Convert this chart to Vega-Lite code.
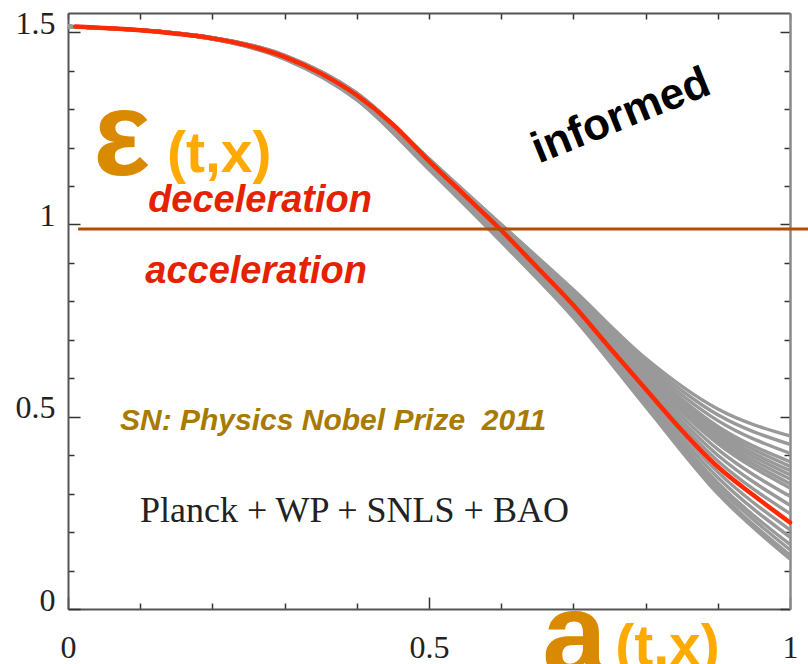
{
  "$schema": "https://vega.github.io/schema/vega-lite/v6.json",
  "width": 722,
  "height": 596,
  "autosize": "none",
  "padding": {"left": 68, "top": 13, "right": 18, "bottom": 55},
  "background": "white",
  "config": {
    "view": {"stroke": null},
    "axis": {
      "grid": false,
      "domainColor": "#555555",
      "domainWidth": 2,
      "tickColor": "#333333",
      "tickWidth": 1.5,
      "labelFont": "Liberation Serif",
      "labelFontSize": 32,
      "labelColor": "#222222",
      "title": null
    }
  },
  "datasets": {
    "gray": [
      {"run":"u1","a":0,"e":1.515},{"run":"u1","a":0.2,"e":1.484},{"run":"u1","a":0.3,"e":1.436},{"run":"u1","a":0.4,"e":1.337},{"run":"u1","a":0.5,"e":1.166},{"run":"u1","a":0.6,"e":0.987},{"run":"u1","a":0.7,"e":0.794},{"run":"u1","a":0.8,"e":0.58},{"run":"u1","a":0.9,"e":0.385},{"run":"u1","a":1,"e":0.248},
      {"run":"u2","a":0,"e":1.515},{"run":"u2","a":0.2,"e":1.484},{"run":"u2","a":0.3,"e":1.437},{"run":"u2","a":0.4,"e":1.337},{"run":"u2","a":0.5,"e":1.166},{"run":"u2","a":0.6,"e":0.988},{"run":"u2","a":0.7,"e":0.798},{"run":"u2","a":0.8,"e":0.588},{"run":"u2","a":0.9,"e":0.4},{"run":"u2","a":1,"e":0.27},
      {"run":"u3","a":0,"e":1.515},{"run":"u3","a":0.2,"e":1.485},{"run":"u3","a":0.3,"e":1.437},{"run":"u3","a":0.4,"e":1.338},{"run":"u3","a":0.5,"e":1.167},{"run":"u3","a":0.6,"e":0.99},{"run":"u3","a":0.7,"e":0.802},{"run":"u3","a":0.8,"e":0.596},{"run":"u3","a":0.9,"e":0.415},{"run":"u3","a":1,"e":0.293},
      {"run":"u4","a":0,"e":1.515},{"run":"u4","a":0.2,"e":1.485},{"run":"u4","a":0.3,"e":1.438},{"run":"u4","a":0.4,"e":1.338},{"run":"u4","a":0.5,"e":1.167},{"run":"u4","a":0.6,"e":0.991},{"run":"u4","a":0.7,"e":0.806},{"run":"u4","a":0.8,"e":0.604},{"run":"u4","a":0.9,"e":0.43},{"run":"u4","a":1,"e":0.315},
      {"run":"u5","a":0,"e":1.515},{"run":"u5","a":0.2,"e":1.485},{"run":"u5","a":0.3,"e":1.438},{"run":"u5","a":0.4,"e":1.339},{"run":"u5","a":0.5,"e":1.168},{"run":"u5","a":0.6,"e":0.992},{"run":"u5","a":0.7,"e":0.808},{"run":"u5","a":0.8,"e":0.608},{"run":"u5","a":0.9,"e":0.438},{"run":"u5","a":1,"e":0.326},
      {"run":"u6","a":0,"e":1.515},{"run":"u6","a":0.2,"e":1.485},{"run":"u6","a":0.3,"e":1.438},{"run":"u6","a":0.4,"e":1.339},{"run":"u6","a":0.5,"e":1.168},{"run":"u6","a":0.6,"e":0.993},{"run":"u6","a":0.7,"e":0.81},{"run":"u6","a":0.8,"e":0.612},{"run":"u6","a":0.9,"e":0.445},{"run":"u6","a":1,"e":0.338},
      {"run":"u7","a":0,"e":1.515},{"run":"u7","a":0.2,"e":1.485},{"run":"u7","a":0.3,"e":1.438},{"run":"u7","a":0.4,"e":1.339},{"run":"u7","a":0.5,"e":1.168},{"run":"u7","a":0.6,"e":0.993},{"run":"u7","a":0.7,"e":0.812},{"run":"u7","a":0.8,"e":0.616},{"run":"u7","a":0.9,"e":0.453},{"run":"u7","a":1,"e":0.349},
      {"run":"u8","a":0,"e":1.515},{"run":"u8","a":0.2,"e":1.485},{"run":"u8","a":0.3,"e":1.438},{"run":"u8","a":0.4,"e":1.34},{"run":"u8","a":0.5,"e":1.169},{"run":"u8","a":0.6,"e":0.994},{"run":"u8","a":0.7,"e":0.814},{"run":"u8","a":0.8,"e":0.62},{"run":"u8","a":0.9,"e":0.46},{"run":"u8","a":1,"e":0.36},
      {"run":"u9","a":0,"e":1.515},{"run":"u9","a":0.2,"e":1.485},{"run":"u9","a":0.3,"e":1.439},{"run":"u9","a":0.4,"e":1.34},{"run":"u9","a":0.5,"e":1.169},{"run":"u9","a":0.6,"e":0.995},{"run":"u9","a":0.7,"e":0.816},{"run":"u9","a":0.8,"e":0.624},{"run":"u9","a":0.9,"e":0.468},{"run":"u9","a":1,"e":0.371},
      {"run":"u10","a":0,"e":1.515},{"run":"u10","a":0.2,"e":1.485},{"run":"u10","a":0.3,"e":1.439},{"run":"u10","a":0.4,"e":1.34},{"run":"u10","a":0.5,"e":1.169},{"run":"u10","a":0.6,"e":0.996},{"run":"u10","a":0.7,"e":0.818},{"run":"u10","a":0.8,"e":0.628},{"run":"u10","a":0.9,"e":0.475},{"run":"u10","a":1,"e":0.383},
      {"run":"u11","a":0,"e":1.515},{"run":"u11","a":0.2,"e":1.486},{"run":"u11","a":0.3,"e":1.439},{"run":"u11","a":0.4,"e":1.341},{"run":"u11","a":0.5,"e":1.17},{"run":"u11","a":0.6,"e":0.997},{"run":"u11","a":0.7,"e":0.822},{"run":"u11","a":0.8,"e":0.636},{"run":"u11","a":0.9,"e":0.49},{"run":"u11","a":1,"e":0.405},
      {"run":"u12","a":0,"e":1.515},{"run":"u12","a":0.2,"e":1.486},{"run":"u12","a":0.3,"e":1.44},{"run":"u12","a":0.4,"e":1.341},{"run":"u12","a":0.5,"e":1.17},{"run":"u12","a":0.6,"e":0.999},{"run":"u12","a":0.7,"e":0.826},{"run":"u12","a":0.8,"e":0.644},{"run":"u12","a":0.9,"e":0.505},{"run":"u12","a":1,"e":0.428},
      {"run":"u13","a":0,"e":1.515},{"run":"u13","a":0.2,"e":1.486},{"run":"u13","a":0.3,"e":1.44},{"run":"u13","a":0.4,"e":1.342},{"run":"u13","a":0.5,"e":1.171},{"run":"u13","a":0.6,"e":1.0},{"run":"u13","a":0.7,"e":0.83},{"run":"u13","a":0.8,"e":0.652},{"run":"u13","a":0.9,"e":0.52},{"run":"u13","a":1,"e":0.45},
      {"run":"l1","a":0,"e":1.515},{"run":"l1","a":0.2,"e":1.484},{"run":"l1","a":0.3,"e":1.435},{"run":"l1","a":0.4,"e":1.334},{"run":"l1","a":0.5,"e":1.161},{"run":"l1","a":0.6,"e":0.979},{"run":"l1","a":0.7,"e":0.784},{"run":"l1","a":0.8,"e":0.563},{"run":"l1","a":0.9,"e":0.356},{"run":"l1","a":1,"e":0.206},
      {"run":"l2","a":0,"e":1.515},{"run":"l2","a":0.2,"e":1.483},{"run":"l2","a":0.3,"e":1.434},{"run":"l2","a":0.4,"e":1.331},{"run":"l2","a":0.5,"e":1.156},{"run":"l2","a":0.6,"e":0.973},{"run":"l2","a":0.7,"e":0.777},{"run":"l2","a":0.8,"e":0.554},{"run":"l2","a":0.9,"e":0.342},{"run":"l2","a":1,"e":0.187},
      {"run":"l3","a":0,"e":1.515},{"run":"l3","a":0.2,"e":1.483},{"run":"l3","a":0.3,"e":1.432},{"run":"l3","a":0.4,"e":1.329},{"run":"l3","a":0.5,"e":1.152},{"run":"l3","a":0.6,"e":0.967},{"run":"l3","a":0.7,"e":0.771},{"run":"l3","a":0.8,"e":0.545},{"run":"l3","a":0.9,"e":0.328},{"run":"l3","a":1,"e":0.168},
      {"run":"l4","a":0,"e":1.515},{"run":"l4","a":0.2,"e":1.483},{"run":"l4","a":0.3,"e":1.432},{"run":"l4","a":0.4,"e":1.327},{"run":"l4","a":0.5,"e":1.149},{"run":"l4","a":0.6,"e":0.963},{"run":"l4","a":0.7,"e":0.766},{"run":"l4","a":0.8,"e":0.538},{"run":"l4","a":0.9,"e":0.318},{"run":"l4","a":1,"e":0.154},
      {"run":"l5","a":0,"e":1.515},{"run":"l5","a":0.2,"e":1.482},{"run":"l5","a":0.3,"e":1.431},{"run":"l5","a":0.4,"e":1.325},{"run":"l5","a":0.5,"e":1.145},{"run":"l5","a":0.6,"e":0.958},{"run":"l5","a":0.7,"e":0.761},{"run":"l5","a":0.8,"e":0.532},{"run":"l5","a":0.9,"e":0.307},{"run":"l5","a":1,"e":0.14},
      {"run":"l6","a":0,"e":1.515},{"run":"l6","a":0.2,"e":1.482},{"run":"l6","a":0.3,"e":1.43},{"run":"l6","a":0.4,"e":1.324},{"run":"l6","a":0.5,"e":1.143},{"run":"l6","a":0.6,"e":0.955},{"run":"l6","a":0.7,"e":0.758},{"run":"l6","a":0.8,"e":0.527},{"run":"l6","a":0.9,"e":0.3},{"run":"l6","a":1,"e":0.13}
    ],
    "red": [
      {"a":0.01,"e":1.515},{"a":0.05,"e":1.511},{"a":0.1,"e":1.505},{"a":0.15,"e":1.496},{"a":0.2,"e":1.484},{"a":0.25,"e":1.465},{"a":0.3,"e":1.436},{"a":0.35,"e":1.393},{"a":0.4,"e":1.336},{"a":0.45,"e":1.26},{"a":0.5,"e":1.165},{"a":0.55,"e":1.075},{"a":0.6,"e":0.985},{"a":0.65,"e":0.888},{"a":0.7,"e":0.79},{"a":0.75,"e":0.68},{"a":0.8,"e":0.572},{"a":0.85,"e":0.465},{"a":0.9,"e":0.37},{"a":0.95,"e":0.295},{"a":1.0,"e":0.225}
    ]
  },
  "layer": [
    {
      "data": {"name": "gray"},
      "mark": {"type": "line", "interpolate": "monotone", "color": "#999999", "strokeWidth": 3.4},
      "encoding": {
        "x": {"field": "a", "type": "quantitative",
          "scale": {"domain": [0, 1], "nice": false, "zero": false},
          "axis": {"orient": "bottom", "values": [0,0.1,0.2,0.3,0.4,0.5,0.6,0.7,0.8,0.9,1],
            "tickSize": {"condition": {"test": "abs(datum.value*2 - round(datum.value*2)) < 0.001", "value": -12}, "value": -6},
            "labelExpr": "abs(datum.value*2 - round(datum.value*2)) < 0.001 ? format(datum.value, '~g') : ''",
            "labelFlush": false, "labelBaseline": "top", "labelPadding": 35, "labelOverlap": false}},
        "y": {"field": "e", "type": "quantitative",
          "scale": {"domain": [0, 1.55], "nice": false, "zero": false},
          "axis": {"orient": "left", "values": [0,0.1,0.2,0.3,0.4,0.5,0.6,0.7,0.8,0.9,1,1.1,1.2,1.3,1.4,1.5],
            "tickSize": {"condition": {"test": "abs(datum.value*2 - round(datum.value*2)) < 0.001", "value": -12}, "value": -6},
            "labelExpr": "abs(datum.value*2 - round(datum.value*2)) < 0.001 ? format(datum.value, '~g') : ''",
            "labelBaseline": "alphabetic", "labelOffset": 1, "labelPadding": 25, "labelOverlap": false}},
        "detail": {"field": "run"}
      }
    },
    {
      "data": {"name": "red"},
      "mark": {"type": "line", "interpolate": "monotone", "color": "#ff2a00", "strokeWidth": 4.5, "strokeCap": "round"},
      "encoding": {
        "x": {"field": "a", "type": "quantitative",
          "axis": {"orient": "top", "values": [0,0.1,0.2,0.3,0.4,0.5,0.6,0.7,0.8,0.9,1], "tickSize": -6, "labels": false}},
        "y": {"field": "e", "type": "quantitative",
          "axis": {"orient": "right", "values": [0,0.1,0.2,0.3,0.4,0.5,0.6,0.7,0.8,0.9,1,1.1,1.2,1.3,1.4,1.5],
            "tickSize": {"condition": {"test": "abs(datum.value*2 - round(datum.value*2)) < 0.001", "value": -10}, "value": -6},
            "labels": false, "domainColor": "#8a8a8a", "domainWidth": 2.5}}
      }
    },
    {
      "data": {"values": [{"a0": 0.014, "a1": 1.025, "e": 0.988}]},
      "mark": {"type": "rule", "color": "#b24d08", "strokeWidth": 3, "clip": false},
      "encoding": {
        "x": {"field": "a0", "type": "quantitative", "axis": null},
        "x2": {"field": "a1"},
        "y": {"field": "e", "type": "quantitative", "axis": null}
      }
    },
    {
      "data": {"values": [{"label": "ε", "a": 0.035, "e": 1.128}]},
      "mark": {"type": "text", "align": "left", "baseline": "alphabetic", "font": "Liberation Sans", "fontWeight": "bold", "fontSize": 120, "color": "#d98a00"},
      "encoding": {"x": {"field": "a", "type": "quantitative", "axis": null}, "y": {"field": "e", "type": "quantitative", "axis": null}, "text": {"field": "label"}}
    },
    {
      "data": {"values": [{"label": "(t,x)", "a": 0.137, "e": 1.136}, {"label": "(t,x)", "a": 0.758, "e": -0.146}]},
      "mark": {"type": "text", "align": "left", "baseline": "alphabetic", "font": "Liberation Sans", "fontWeight": "bold", "fontSize": 57, "color": "#ffaa00"},
      "encoding": {"x": {"field": "a", "type": "quantitative", "axis": null}, "y": {"field": "e", "type": "quantitative", "axis": null}, "text": {"field": "label"}}
    },
    {
      "data": {"values": [{"label": "a", "a": 0.657, "e": -0.17}]},
      "mark": {"type": "text", "align": "left", "baseline": "alphabetic", "font": "Liberation Sans", "fontWeight": "bold", "fontSize": 116, "color": "#d98a00"},
      "encoding": {"x": {"field": "a", "type": "quantitative", "axis": null}, "y": {"field": "e", "type": "quantitative", "axis": null}, "text": {"field": "label"}}
    },
    {
      "data": {"values": [{"label": "deceleration", "a": 0.111, "e": 1.032}, {"label": "acceleration", "a": 0.107, "e": 0.847}]},
      "mark": {"type": "text", "align": "left", "baseline": "alphabetic", "font": "Liberation Sans", "fontWeight": "bold", "fontStyle": "italic", "fontSize": 38, "color": "#e52200"},
      "encoding": {"x": {"field": "a", "type": "quantitative", "axis": null}, "y": {"field": "e", "type": "quantitative", "axis": null}, "text": {"field": "label"}}
    },
    {
      "data": {"values": [{"label": "SN: Physics Nobel Prize \u00a02011", "a": 0.072, "e": 0.465}]},
      "mark": {"type": "text", "align": "left", "baseline": "alphabetic", "font": "Liberation Sans", "fontWeight": "bold", "fontStyle": "italic", "fontSize": 30, "color": "#a87a00"},
      "encoding": {"x": {"field": "a", "type": "quantitative", "axis": null}, "y": {"field": "e", "type": "quantitative", "axis": null}, "text": {"field": "label"}}
    },
    {
      "data": {"values": [{"label": "Planck + WP + SNLS + BAO", "a": 0.0997, "e": 0.226}]},
      "mark": {"type": "text", "align": "left", "baseline": "alphabetic", "font": "Liberation Serif", "fontSize": 36, "color": "#222222"},
      "encoding": {"x": {"field": "a", "type": "quantitative", "axis": null}, "y": {"field": "e", "type": "quantitative", "axis": null}, "text": {"field": "label"}}
    },
    {
      "data": {"values": [{"label": "informed", "a": 0.766, "e": 1.281}]},
      "mark": {"type": "text", "align": "center", "baseline": "middle", "angle": 338, "font": "Liberation Sans", "fontWeight": "bold", "fontSize": 44, "color": "#000000"},
      "encoding": {"x": {"field": "a", "type": "quantitative", "axis": null}, "y": {"field": "e", "type": "quantitative", "axis": null}, "text": {"field": "label"}}
    }
  ],
  "resolve": {"axis": {"x": "independent", "y": "independent"}}
}
